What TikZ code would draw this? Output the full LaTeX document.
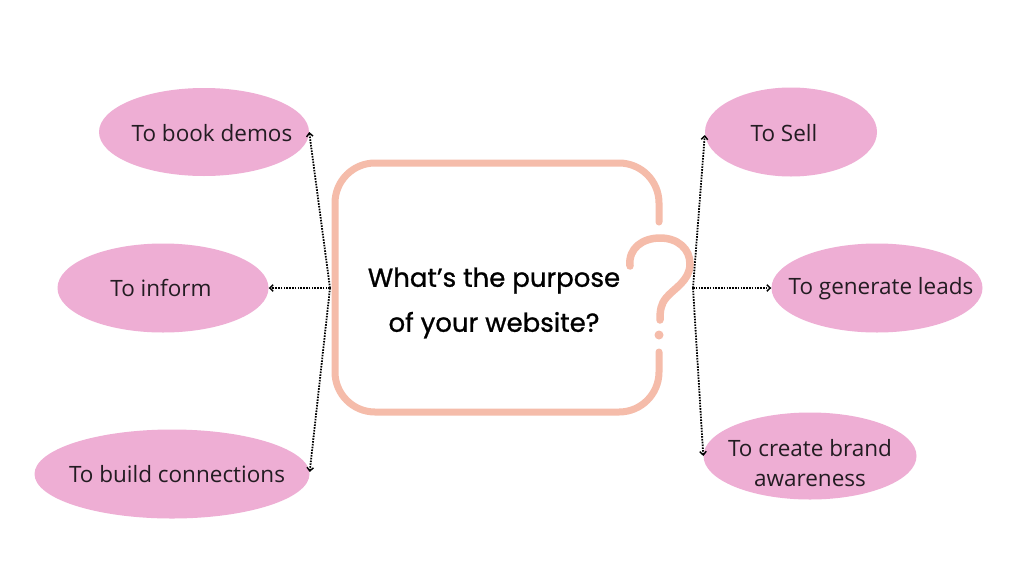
\documentclass[tikz,border=0pt]{standalone}
\usepackage{fontspec}
\setmainfont{Open Sans}
\newfontfamily\headfont{Poppins}[FakeBold=1]
\usetikzlibrary{shapes.geometric,arrows.meta}
\definecolor{pinkfill}{HTML}{EEAED4}
\definecolor{salmon}{HTML}{F5BCAA}
\definecolor{ink}{HTML}{231C22}
\tikzset{
  pill/.style={ellipse, fill=pinkfill, draw=none, inner sep=0pt},
  lbl/.style={text=ink, font=\fontsize{22.5}{30}\selectfont, align=center, inner sep=0pt},
  conn/.style={line width=1.8pt, dash pattern=on 1.6pt off 1.2pt, -{Straight Barb[length=3.5pt,width=6.5pt,line width=1.4pt]}},
  frame/.style={draw=salmon, line width=7pt, line cap=round, rounded corners=40pt},
}
\begin{document}
\begin{tikzpicture}[x=1pt,y=-1pt]
\useasboundingbox (0,0) rectangle (1024,576);
\fill[white] (0,0) rectangle (1024,576);
% ellipses
\node[pill, minimum width=210pt, minimum height=88pt] (demos) at (204,132) {};
\node[pill, minimum width=211pt, minimum height=89pt] (inform) at (163,288) {};
\node[pill, minimum width=275pt, minimum height=89pt] (connect) at (172,474) {};
\node[pill, minimum width=172pt, minimum height=89pt] (sell) at (791,132) {};
\node[pill, minimum width=211pt, minimum height=89pt] (leads) at (877,288) {};
\node[pill, minimum width=213pt, minimum height=87pt] (aware) at (810,456) {};
% labels
\node[lbl] (tdemos) at (212,133) {To book demos};
\node[lbl] (tinform) at (161,288) {To inform};
\node[lbl] (tconnect) at (177,474) {To build connections};
\node[lbl] (tsell) at (784,133) {To Sell};
\node[lbl] (tleads) at (881,289) {To generate leads};
\node[lbl] (taware) at (810,463) {To create brand\\awareness};
% central frame with question mark
\draw[frame] (659,222) -- (659,163) -- (335,163) -- (335,412) -- (659,412) -- (659,352);
\draw[draw=salmon, line width=7.5pt, line cap=round]
  (630,266) .. controls (628,248) and (643,238) .. (660,238)
  .. controls (678,238) and (690,249) .. (690,264)
  .. controls (690,281) and (673,289) .. (666,298)
  .. controls (661,304) and (660,310) .. (660,320);
\fill[salmon] (659,335) circle (4.5pt);
\node[font=\headfont\fontsize{26}{45}\selectfont, align=center, inner sep=0pt] (question) at (494,303) {What’s the purpose\\of your website?};
% connector origins
\coordinate (lo) at (330,288);
\coordinate (ro) at (693,288);
\draw[conn] (lo) -- (demos.east);
\draw[conn] (lo) -- (inform.east);
\draw[conn] (lo) -- ([yshift=2pt]connect.east);
\draw[conn] (ro) -- ([yshift=-3pt]sell.west);
\draw[conn] (ro) -- (leads.west);
\draw[conn] (ro) -- (aware.west);
\end{tikzpicture}
\end{document}
